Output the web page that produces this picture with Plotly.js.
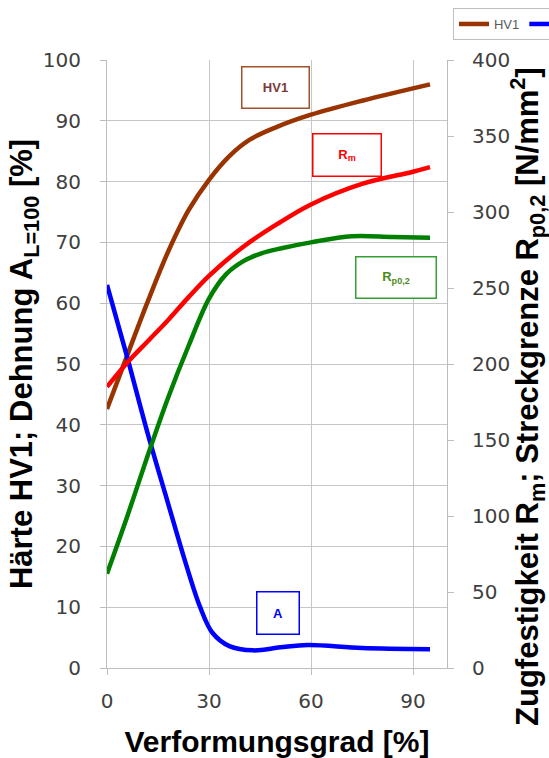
<!DOCTYPE html>
<html>
<head>
<meta charset="utf-8">
<script src="https://cdn.plot.ly/plotly-3.0.1.min.js"></script>
<style>html,body{margin:0;padding:0;background:#fff;}#chart{width:549px;height:758px;}</style>
</head>
<body>
<div id="chart"></div>
<script>
// Verformungsgrad [%] and values
const hvX  = [0, 6, 12, 18, 24, 30, 36, 42, 50, 60, 75, 95];
const hvY  = [42.6, 51.5, 60.3, 68.5, 75.3, 80.3, 84.2, 86.9, 89, 91, 93.3, 96];

const aX   = [0, 6, 12, 18, 23, 27.4, 31, 36, 43, 51, 59, 75, 95];
const aY   = [63, 51, 38.5, 27, 17.5, 10, 5.8, 3.6, 2.9, 3.4, 3.8, 3.3, 3.1];

const rmX  = [0, 6, 12, 18, 24, 30, 40, 50, 60, 75, 90, 95];
const rmY  = [185, 201, 215, 229, 244, 258, 277, 292, 305, 318.5, 326.5, 329.5];

const rpX  = [0, 6, 12, 18, 24, 30, 35, 40, 45, 51, 60, 72, 84, 95];
const rpY  = [62, 100, 140, 178, 212, 243, 259, 267.5, 272.5, 276, 280, 284, 283.5, 283];

const seriesNames = ['HV1', 'A', 'R<sub>m</sub>', 'R<sub>p0,2</sub>'];
const seriesColors = ['#993300', '#0000ff', '#ff0000', '#008000'];

const xTitle = 'Verformungsgrad [%]';
const yTitle = 'Härte HV1; Dehnung A<sub>L=100</sub> [%]';
const y2Title = 'Zugfestigkeit R<sub>m</sub>; Streckgrenze R<sub>p0,2</sub> [N/mm<sup>2</sup>]';

const lineW = 4.5;
const traces = [
  {x: hvX, y: hvY, name: seriesNames[0], yaxis: 'y', mode: 'lines', line: {color: seriesColors[0], width: lineW, shape: 'spline', smoothing: 1}},
  {x: aX, y: aY, name: seriesNames[1], yaxis: 'y', mode: 'lines', line: {color: seriesColors[1], width: lineW, shape: 'spline', smoothing: 1}},
  {x: rmX, y: rmY, name: seriesNames[2], yaxis: 'y2', mode: 'lines', line: {color: seriesColors[2], width: lineW, shape: 'spline', smoothing: 1}},
  {x: rpX, y: rpY, name: seriesNames[3], yaxis: 'y2', mode: 'lines', line: {color: seriesColors[3], width: lineW, shape: 'spline', smoothing: 1}}
];

const tickFont = {family: 'DejaVu Sans', size: 20, color: '#404040'};
const titleFont = {family: 'Liberation Sans', size: 30, color: '#000000'};
const yTitleFont = {family: 'Liberation Sans', size: 31, color: '#000000'};
const gridC = '#c6c6c6';
const lineC = '#bdbdbd';

function box(txt, x, y, col, txtCol, w, h) {
  return {text: '<b>' + txt + '</b>', x: x, y: y, xref: 'x', yref: 'y', showarrow: false,
    font: {family: 'Liberation Sans', size: 13, color: txtCol}, bgcolor: '#ffffff',
    bordercolor: col, borderwidth: 1.5, borderpad: 0, width: w, height: h, align: 'center', valign: 'middle'};
}

const layout = {
  width: 549, height: 758,
  margin: {l: 107, r: 102, t: 60, b: 90, autoexpand: false},
  paper_bgcolor: '#ffffff', plot_bgcolor: '#ffffff',
  showlegend: true,
  legend: {orientation: 'h', x: 1.0176, xanchor: 'left', y: 1.0855, yanchor: 'top',
    bordercolor: '#bfbfbf', borderwidth: 1, bgcolor: '#ffffff',
    font: {family: 'Liberation Sans', size: 13, color: '#595959'}},
  xaxis: {range: [0, 100], tick0: 0, dtick: 30, showgrid: true, gridcolor: gridC, gridwidth: 1,
    zeroline: false, showline: true, linecolor: lineC, linewidth: 1, ticks: 'outside', ticklen: 6, tickcolor: lineC,
    tickfont: tickFont, ticklabelstandoff: 9,
    title: {text: '<b>' + xTitle + '</b>', font: titleFont, standoff: 18}},
  yaxis: {range: [0, 100], tick0: 0, dtick: 10, showgrid: true, gridcolor: gridC, gridwidth: 1,
    zeroline: false, showline: true, linecolor: lineC, linewidth: 1, ticks: 'outside', ticklen: 6, tickcolor: lineC,
    tickfont: tickFont, ticklabelstandoff: 15,
    title: {text: '<b>' + yTitle + '</b>', font: yTitleFont, standoff: 0}},
  yaxis2: {range: [0, 400], tick0: 0, dtick: 50, overlaying: 'y', side: 'right', showgrid: false,
    zeroline: false, showline: true, linecolor: lineC, linewidth: 1, ticks: 'outside', ticklen: 6, tickcolor: lineC,
    tickfont: tickFont, ticklabelstandoff: 14},
  annotations: [
    box('HV1', 49.7, 95.4, '#a0522d', '#7a3a3a', 66, 40),
    box('R<sub>m</sub>', 70.6, 84.4, '#ff0000', '#ff0000', 67, 41),
    box('R<sub>p0,2</sub>', 85, 64.3, '#33a033', '#4d8a1a', 79, 40),
    box('A', 50.3, 9.0, '#0000ff', '#0000ff', 41, 41),
    {text: '<b>' + y2Title + '</b>', xref: 'paper', yref: 'paper', x: 1.2382, y: 0.4474,
      xanchor: 'center', yanchor: 'middle', textangle: -90, showarrow: false, font: yTitleFont}
  ]
};

Plotly.newPlot('chart', traces, layout, {displayModeBar: false, staticPlot: true});
</script>
</body>
</html>
